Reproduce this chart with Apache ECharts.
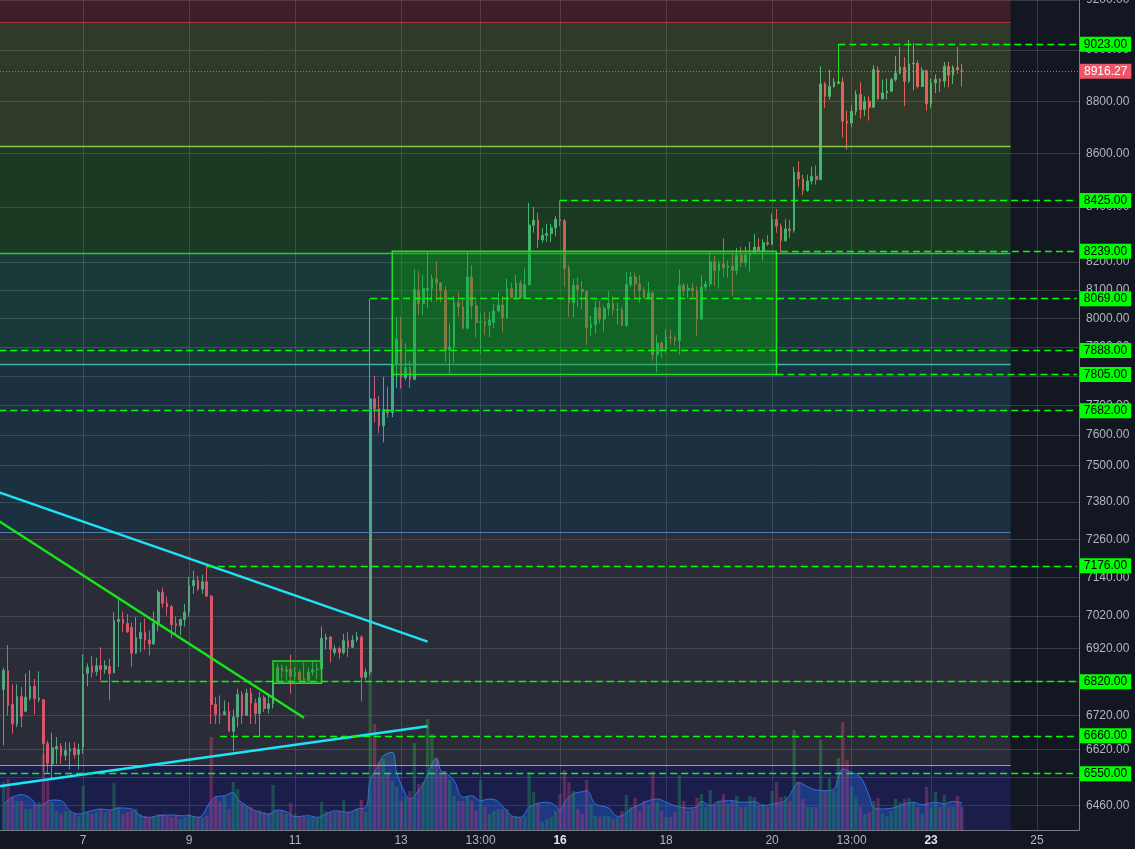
<!DOCTYPE html>
<html><head><meta charset="utf-8">
<script src="https://cdn.jsdelivr.net/npm/echarts@6/dist/echarts.min.js"></script>
<style>html,body{margin:0;padding:0;background:#131722;overflow:hidden;width:1135px;height:849px;position:relative}
#c{position:absolute;left:-3px;top:0;width:1138px;height:849px}</style>
</head><body><div id="c"></div>
<script>
// ---------- DATA (2-hour candles, first bar opens on day 5 at 12:00) ----------
const openP = [
6797,6854,6752,6695,6776,6732,6769,6806,6766,6766,
6637,6578,6622,6629,6603,6615,6624,6606,6627,6845,
6868,6850,6868,6857,6866,6846,7003,7009,6997,6985,
6906,6950,6969,6946,6934,6995,7093,7059,7048,6996,
6990,7009,7031,7114,7130,7103,7126,7081,6752,6725,
6722,6731,6673,6715,6782,6720,6786,6756,6725,6772,
6740,6754,6822,6862,6851,6857,6836,6848,6830,6824,
6849,6856,6858,6947,6955,6908,6920,6908,6944,6924,
6946,6955,6833,6849,7722,7688,7631,7686,7675,7840,
7928,7794,7829,7789,8100,8052,8100,8105,8140,8125,
8099,7889,7900,8055,8040,7965,8146,8044,7986,7988,
7975,7985,8026,8047,8001,8104,8073,8125,8071,8119,
8334,8352,8281,8297,8303,8324,8355,8350,8177,8055,
8117,8102,8094,7967,7977,8037,7997,8035,8052,8029,
8030,7975,8119,8146,8121,8099,8073,8090,7873,7913,
7889,7934,7932,7922,8117,8099,8106,8097,7997,8110,
8121,8201,8170,8194,8180,8185,8170,8225,8198,8225,
8233,8254,8241,8270,8265,8355,8330,8278,8320,8314,
8530,8505,8462,8497,8515,8503,8867,8819,8857,8870,
8875,8723,8716,8761,8826,8768,8800,8777,8923,8810,
8832,8839,8884,8910,8932,8878,8945,8948,8857,8919,
8790,8871,8884,8878,8936,8901,8932,8922];
const closeP = [
6854,6749,6695,6776,6717,6774,6806,6769,6771,6637,
6580,6625,6629,6603,6617,6622,6605,6620,6842,6863,
6848,6868,6857,6868,6844,7005,7009,6997,6971,6906,
6953,6969,6946,6934,6997,7093,7059,7048,6993,6990,
7009,7031,7114,7130,7103,7126,7081,6752,6723,6722,
6731,6673,6715,6782,6720,6786,6756,6725,6772,6740,
6754,6822,6862,6851,6855,6836,6848,6826,6824,6849,
6856,6858,6951,6955,6918,6920,6908,6944,6924,6946,
6955,6833,6849,7722,7688,7631,7686,7675,7840,7928,
7794,7829,7789,8102,8052,8105,8105,8140,8125,8099,
7889,7900,8055,8040,7965,8146,8044,7986,7988,7975,
7994,8026,8047,8001,8104,8073,8125,8071,8119,8334,
8352,8281,8297,8303,8324,8355,8350,8177,8055,8117,
8102,8094,7967,7977,8037,7997,8035,8052,8029,8030,
7975,8119,8146,8121,8099,8073,8090,7873,7913,7889,
7934,7932,7922,8117,8099,8106,8097,7997,8110,8121,
8201,8170,8194,8180,8185,8170,8225,8198,8225,8233,
8254,8241,8270,8265,8355,8330,8278,8320,8314,8530,
8505,8462,8497,8515,8503,8867,8819,8857,8875,8875,
8723,8716,8761,8826,8768,8800,8777,8923,8810,8832,
8839,8884,8910,8932,8878,8945,8948,8857,8919,8790,
8871,8884,8878,8936,8901,8932,8922,8916.27];
const lowP = [
6632,6720,6666,6685,6685,6729,6764,6723,6759,6555,
6550,6536,6578,6578,6588,6562,6593,6562,6608,6806,
6833,6838,6824,6844,6764,6846,6864,6970,6968,6865,
6904,6909,6916,6899,6932,6973,7046,7021,6951,6960,
6960,6987,7018,7088,7098,7088,7080,6695,6695,6695,
6720,6671,6615,6685,6695,6720,6695,6695,6656,6730,
6725,6740,6819,6829,6820,6784,6824,6820,6822,6813,
6838,6826,6858,6917,6878,6899,6889,6902,6894,6922,
6940,6762,6826,6840,7642,7605,7576,7659,7660,7760,
7757,7785,7760,7785,8012,8012,8036,8057,8060,8057,
7846,7809,7846,8005,7961,7960,7997,7932,7877,7941,
7934,7964,8020,7950,8001,8069,8066,8068,8068,8115,
8306,8250,8270,8273,8272,8294,8330,8111,8005,8003,
8040,8032,7907,7938,7945,7982,7953,8009,8012,7979,
7972,7970,8110,8066,8055,8068,8070,7852,7812,7863,
7880,7909,7905,7873,8078,8070,8073,7938,7995,8100,
8110,8113,8105,8144,8144,8078,8153,8182,8182,8165,
8228,8236,8204,8258,8262,8306,8235,8273,8286,8306,
8474,8444,8457,8484,8484,8500,8774,8806,8852,8865,
8661,8614,8700,8746,8733,8742,8726,8774,8806,8806,
8807,8835,8876,8904,8781,8870,8842,8850,8855,8764,
8772,8832,8836,8854,8854,8867,8907,8857];
const highP = [
6862,6931,6812,6812,6804,6844,6854,6828,6851,6768,
6646,6669,6656,6638,6641,6641,6641,6637,6902,6875,
6897,6892,6924,6884,6889,7031,7070,7033,7026,7000,
7016,7000,7012,6975,7034,7101,7108,7080,7054,7018,
7012,7057,7141,7161,7145,7148,7176,7085,6774,6779,
6764,6759,6737,6799,6792,6799,6801,6769,6789,6779,
6784,6826,6875,6871,6868,6902,6864,6856,6878,6862,
6880,6875,6987,6965,6958,6930,6926,6965,6970,6960,
6970,6960,6860,8069,7800,7732,7797,7763,7870,8005,
8005,7913,7852,8173,8168,8153,8240,8155,8204,8128,
8114,7982,8078,8093,8066,8237,8189,8062,8019,8023,
8023,8050,8093,8078,8140,8125,8153,8134,8177,8416,
8400,8380,8324,8339,8339,8367,8425,8356,8189,8140,
8146,8132,8099,8009,8062,8060,8044,8096,8078,8055,
8040,8165,8165,8162,8153,8110,8129,8095,7941,7921,
7961,7961,7941,8173,8125,8121,8125,8113,8153,8132,
8240,8222,8204,8286,8205,8237,8250,8255,8255,8273,
8302,8286,8283,8298,8377,8393,8340,8355,8353,8551,
8571,8521,8521,8551,8555,8936,8875,8923,8890,8885,
8893,8764,8784,8842,8874,8819,8819,8940,8936,8884,
8888,8890,8976,9012,8972,9040,9028,8960,8932,8922,
8888,8904,8890,8953,8953,8940,9012,8945];
const volume = [
48,51,34,29,29,21,21,26,28,76,
49,28,19,16,19,19,16,14,44,19,
16,18,21,18,19,47,23,16,18,19,
21,16,14,13,14,16,16,14,13,14,
11,13,16,14,13,13,14,93,33,29,
34,21,48,41,26,24,23,19,20,18,
16,45,19,19,16,27,16,14,13,13,
13,13,28,19,18,18,19,30,18,19,
21,30,18,160,106,68,71,56,49,43,
29,33,39,87,46,48,111,96,71,56,
59,50,34,29,29,34,29,19,50,23,
16,19,21,21,21,14,14,13,14,58,
38,26,8,11,13,19,36,60,48,39,
21,16,50,26,14,13,14,14,11,13,
19,35,23,32,19,29,24,59,28,19,
13,13,18,55,29,19,21,32,36,23,
40,26,28,36,26,29,34,23,23,34,
33,24,26,23,39,48,33,34,29,100,
48,31,23,23,23,90,39,52,39,72,
108,70,43,33,23,16,18,29,32,16,
14,19,31,28,31,32,28,23,16,43,
23,38,23,35,23,23,34,23];
// volume moving average: [bar index, value]
const volumeMA = [
[0,26],[2,32.7],[4,35.3],[6,32],[8,24.3],[11,30],[13,29.3],[15,19.3],[17,16],[20,19.3],
[22,21],[24,20],[26,22],[29,21],[31,14.3],[33,12.7],[35,14.3],[38,15],[40,14.3],[42,14.3],
[44,12.7],[47,29.3],[48,33.3],[50,34.3],[52,37.7],[53,31],[55,24.3],[57,19.3],[60,16],[62,20],
[64,18.3],[66,13.3],[69,14.3],[71,12.7],[73,16],[75,19.3],[78,17.7],[80,21],[82,22.7],[83,49.3],
[85,66],[86,74.3],[88,77.7],[89,57.7],[91,36],[92,31],[94,40],[95,46],[97,66],[98,72],
[99,59.3],[100,57.7],[102,49.3],[104,32.7],[106,34.3],[108,29.3],[110,31],[112,28.3],[115,14.3],[117,12.7],
[119,22.7],[121,26.7],[123,27.7],[125,24.3],[126,19.3],[127,27.7],[129,36],[131,38.3],[132,39.3],[134,26],
[137,22],[139,13.7],[140,14.3],[142,21],[144,25.3],[146,29.3],[148,31],[150,27.7],[152,24.3],[155,22],
[157,23.3],[158,28.7],[160,24.3],[162,28.7],[165,29.3],[167,27.7],[170,28.3],[172,24.3],[174,26],[177,29.3],
[179,42.7],[180,47.7],[182,43.3],[184,40],[186,39.3],[188,41],[189,52.7],[190,61],[192,57.7],[194,52.7],
[196,34.3],[197,22.7],[199,21],[202,22.7],[204,26],[206,27.7],[208,25.3],[211,27.7],[213,26],[215,28.7],[217,27]];

// axis ticks
const xTickCats = ['7 00:00','9 00:00','11 00:00','13 00:00','14 12:00','16 00:00','18 00:00','20 00:00','21 12:00','23 00:00','25 00:00'];
const xTickText = ['7','9','11','13','13:00','16','18','20','13:00','23','25'];
const boldTicks = ['16','23'];
const yTicks = [9200,9000,8800,8600,8400,8200,8100,8000,7900,7800,7700,7600,7500,7380,7260,7140,7020,6920,6820,6720,6620,6540,6460];

// drawings
const levels = [9023,8425,8239,8069,7888,7805,7682,7176,6820,6660,6550];
const levelFromBar = [189,126,176,83,-1,175,-1,46,22,49,-1];
const lastPrice = 8916.27;
const zoneEdges = [9200,9110,8628,8233,7841,7284,6574,6390];
const zoneEndBar = 228;
const boxes = [[88,8239,175,7805],[61,6882,72,6815]];
const trendLines = [[-1,7411,96,6941],[-1,6514,96,6688],[-1,7318,68,6713]];
const markerDrop = [189,9023,8870];

// ---------- STYLE ----------
const FONT = 'Liberation Sans, Arial, sans-serif';
const UP = '#45b07e', DOWN = '#ee4a5e';
const LEVEL_GREEN = '#00ff00';
const zoneFill = ['rgba(237,58,74,0.2)','rgba(159,198,64,0.2)','rgba(59,200,44,0.2)','rgba(54,198,154,0.2)',
                  'rgba(59,153,190,0.2)','rgba(134,133,144,0.2)','rgba(59,58,234,0.2)'];
const zoneEdgeColor = [null,'#a83242','#8bc34a','#22cc33','#3bb5a5','#4f80b0','#9b9db4',null];
const zoneEdgeWidth = [0,1,1.3,1.3,1.3,1,1,0];
const trendColor = ['#1ee3f5','#1ee3f5','#17e617'];

// ---------- BUILD ----------
const SLOT_COUNT = 245;
const cats = [];
for (let j = 0; j < SLOT_COUNT; j++) {
  const t = 10 + 2 * j;
  cats.push((5 + Math.floor(t / 24)) + ' ' + String(t % 24).padStart(2, '0') + ':00');
}
const J = i => i + 1; // bar index -> category index

const candleData = cats.map((c, j) => {
  const i = j - 1;
  return (i >= 0 && i < openP.length) ? [openP[i], closeP[i], lowP[i], highP[i]] : '-';
});
const volData = cats.map((c, j) => {
  const i = j - 1;
  if (i < 0 || i >= volume.length) return '-';
  const up = closeP[i] >= openP[i];
  return { value: volume[i], itemStyle: { color: up ? 'rgba(30,160,60,0.42)' : 'rgba(220,60,90,0.42)' } };
});
const maData = volumeMA.map(p => [J(p[0]), p[1]]);

const gridStyle = { color: 'rgba(255,255,255,0.15)', width: 1, type: 'solid' };
const gridLines = [];
yTicks.forEach(v => gridLines.push({
  yAxis: v, lineStyle: gridStyle,
  label: { show: true, position: 'end', distance: 7, formatter: v.toFixed(2), color: '#b2b5be', fontSize: 12, fontFamily: FONT }
}));
xTickCats.forEach(c => gridLines.push({ xAxis: cats.indexOf(c), lineStyle: gridStyle, label: { show: false } }));

const zoneAreas = [];
const zoneLines = [];
for (let k = 0; k < zoneEdges.length - 1; k++) {
  zoneAreas.push([{ coord: [0, zoneEdges[k]], itemStyle: { color: zoneFill[k] } }, { coord: [J(zoneEndBar), zoneEdges[k + 1]] }]);
}
for (let k = 1; k < zoneEdges.length - 1; k++) {
  zoneLines.push([{ coord: [0, zoneEdges[k]], lineStyle: { color: zoneEdgeColor[k], width: zoneEdgeWidth[k], type: 'solid' }, label: { show: false } },
                  { coord: [J(zoneEndBar), zoneEdges[k]] }]);
}

const boxAreas = boxes.map(b => [
  { coord: [J(b[0]), b[1]], itemStyle: { color: 'rgba(5,165,5,0.38)', borderColor: '#22e022', borderWidth: 1.5 } },
  { coord: [J(b[2]), b[3]] }
]);

const drawLines = [];
trendLines.forEach((t, k) => drawLines.push([
  { coord: [J(t[0]), t[1]], lineStyle: { color: trendColor[k], width: 2.5, type: 'solid' }, label: { show: false } },
  { coord: [J(t[2]), t[3]] }
]));
levels.forEach((v, k) => drawLines.push([
  { coord: [J(levelFromBar[k]), v], lineStyle: { color: LEVEL_GREEN, width: 1.4, type: [7, 4] },
    label: { show: true, position: 'end', distance: 3, formatter: v.toFixed(2), backgroundColor: LEVEL_GREEN,
             color: '#000', padding: [2, 4, 1, 4], fontSize: 12, fontFamily: FONT } },
  { coord: [SLOT_COUNT - 1, v] }
]));
drawLines.push([
  { coord: [J(markerDrop[0]), markerDrop[1]], lineStyle: { color: '#22dd22', width: 1, type: 'solid' }, label: { show: false } },
  { coord: [J(markerDrop[0]), markerDrop[2]] }
]);

function helper(name, extra) {
  return Object.assign({ name: name, type: 'line', data: [], symbol: 'none', silent: true, animation: false,
                         xAxisIndex: 0, yAxisIndex: 0 }, extra);
}

const chart = echarts.init(document.getElementById('c'), null, { renderer: 'canvas' });
chart.setOption({
  backgroundColor: '#131722',
  animation: false,
  grid: { left: 0, right: 56, top: 0, bottom: 19, containLabel: false },
  xAxis: {
    type: 'category', data: cats, boundaryGap: true,
    axisLine: { show: true, lineStyle: { color: '#787b86' } },
    axisTick: { show: false },
    splitLine: { show: false },
    axisLabel: {
      interval: (idx, val) => xTickCats.indexOf(val) >= 0,
      formatter: (val) => {
        const k = xTickCats.indexOf(val);
        if (k < 0) return '';
        const t = xTickText[k];
        return boldTicks.indexOf(t) >= 0 ? '{b|' + t + '}' : t;
      },
      color: '#b2b5be', fontSize: 12, fontFamily: FONT, margin: 5,
      rich: { b: { fontWeight: 'bold', color: '#e0e3eb', fontSize: 12, fontFamily: FONT } }
    }
  },
  yAxis: [
    { type: 'log', logBase: 10, position: 'right', min: 6390, max: 9200,
      axisLine: { show: true, lineStyle: { color: '#787b86' } }, axisTick: { show: false },
      axisLabel: { show: false }, splitLine: { show: false } },
    { type: 'value', min: 0, max: 830, show: false }
  ],
  series: [
    helper('grid', { markLine: { z: 1, symbol: ['none', 'none'], silent: true, animation: false, label: { show: false }, data: gridLines } }),
    { name: 'volumeMA', type: 'line', yAxisIndex: 1, data: maData, smooth: 0.4, symbol: 'none', z: 1.5, silent: true,
      lineStyle: { color: 'rgba(45,135,240,0.9)', width: 1 }, areaStyle: { color: 'rgba(30,120,230,0.5)' } },
    { name: 'volume', type: 'bar', yAxisIndex: 1, data: volData, barWidth: 3.3, z: 1.7, silent: true },
    { name: 'price', type: 'candlestick', data: candleData, barWidth: 2.2, z: 2, silent: true,
      itemStyle: { color: UP, color0: DOWN, borderColor: UP, borderColor0: DOWN, borderWidth: 1 },
      markArea: { z: 3, silent: true, animation: false, data: zoneAreas },
      markLine: { z: 3.2, symbol: ['none', 'none'], silent: true, animation: false, label: { show: false }, data: zoneLines } },
    helper('boxes', { markArea: { z: 4, silent: true, animation: false, data: boxAreas } }),
    helper('drawings', { markLine: { z: 5, symbol: ['none', 'none'], silent: true, animation: false, label: { show: false }, data: drawLines } }),
    helper('last', { markLine: { z: 6, symbol: ['none', 'none'], silent: true, animation: false, data: [
      { yAxis: lastPrice, lineStyle: { color: '#f05468', width: 1, type: [1, 2] },
        label: { show: true, position: 'end', distance: 1, formatter: lastPrice.toFixed(2), backgroundColor: '#f05468',
                 color: '#ffffff', padding: [2, 4, 1, 4], fontSize: 12, fontFamily: FONT } }
    ] } })
  ]
});
</script>
</body></html>
